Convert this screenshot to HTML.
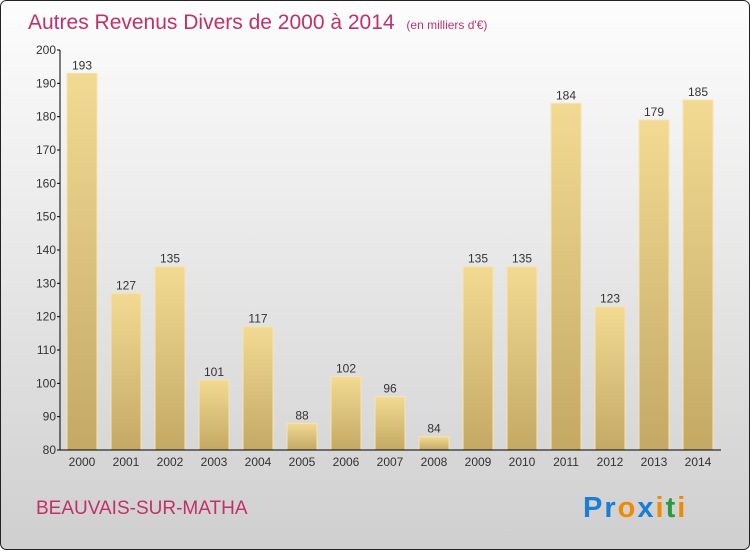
<!DOCTYPE html>
<html><head><meta charset="utf-8"><style>
body{margin:0}
svg text{font-family:"Liberation Sans",sans-serif}
</style></head><body>
<svg id="c" width="750" height="550" xmlns="http://www.w3.org/2000/svg">
<defs>
<linearGradient id="bg" x1="0" y1="0" x2="0" y2="1"><stop offset="0" stop-color="#fdfdfd"/><stop offset="1" stop-color="#cfcfcf"/></linearGradient>
<linearGradient id="bar" x1="0" y1="0" x2="0" y2="1"><stop offset="0" stop-color="#f3da93"/><stop offset="1" stop-color="#c3a963"/></linearGradient>
</defs>
<rect x="0.5" y="0.5" width="749" height="549" rx="6" fill="url(#bg)" stroke="#222"/>
<text x="28" y="29" font-size="21" fill="#c2306a">Autres Revenus Divers de 2000 à 2014 <tspan font-size="12" dx="6">(en milliers d'€)</tspan></text>
<g id="plot"></g>
<text x="36" y="514" font-size="19" fill="#c2306a">BEAUVAIS-SUR-MATHA</text>
<text x="583" y="517" font-size="29" font-weight="bold" letter-spacing="2"><tspan fill="#1a7fd4">Pr</tspan><tspan fill="#f08a00">o</tspan><tspan fill="#1a7fd4">x</tspan><tspan fill="#f08a00">i</tspan><tspan fill="#2a9a3a">t</tspan><tspan fill="#f08a00">i</tspan></text>
</svg>
<script>
const categories=["2000","2001","2002","2003","2004","2005","2006","2007","2008","2009","2010","2011","2012","2013","2014"];
const values=[193,127,135,101,117,88,102,96,84,135,135,184,123,179,185];
const yTicks=[80,90,100,110,120,130,140,150,160,170,180,190,200];
const NS="http://www.w3.org/2000/svg";
const g=document.getElementById('plot');
const y=v=>450-(v-80)*(400/120);
const x=i=>82+i*44;
function mk(t,a,txt){const e=document.createElementNS(NS,t);for(const k in a)e.setAttribute(k,a[k]);if(txt!==undefined)e.textContent=txt;g.appendChild(e);return e;}
values.forEach((v,i)=>{
 const r=mk('rect',{x:x(i)-15,y:y(v),width:30,height:450-y(v),fill:'url(#bar)',stroke:'#f6e4b0','stroke-width':1});
 
 
 const t=mk('text',{x:x(i),y:y(v)-4,'text-anchor':'middle','font-size':12,fill:'#333'},String(v));
 
 
 const c=mk('text',{x:x(i),y:466,'text-anchor':'middle','font-size':12,fill:'#333'},categories[i]);
 
 
});
yTicks.forEach(v=>{
 const l=mk('line',{x1:57,x2:60,y1:y(v),y2:y(v),stroke:'#000'});
 
 
 const t=mk('text',{x:56,y:y(v)+4,'text-anchor':'end','font-size':12,fill:'#333'},String(v));
 
 
});
const ya=mk('line',{x1:60,x2:60,y1:50,y2:450,stroke:'#000'});


const xa=mk('line',{x1:60,x2:721,y1:450,y2:450,stroke:'#000'});


</script>
</body></html>
